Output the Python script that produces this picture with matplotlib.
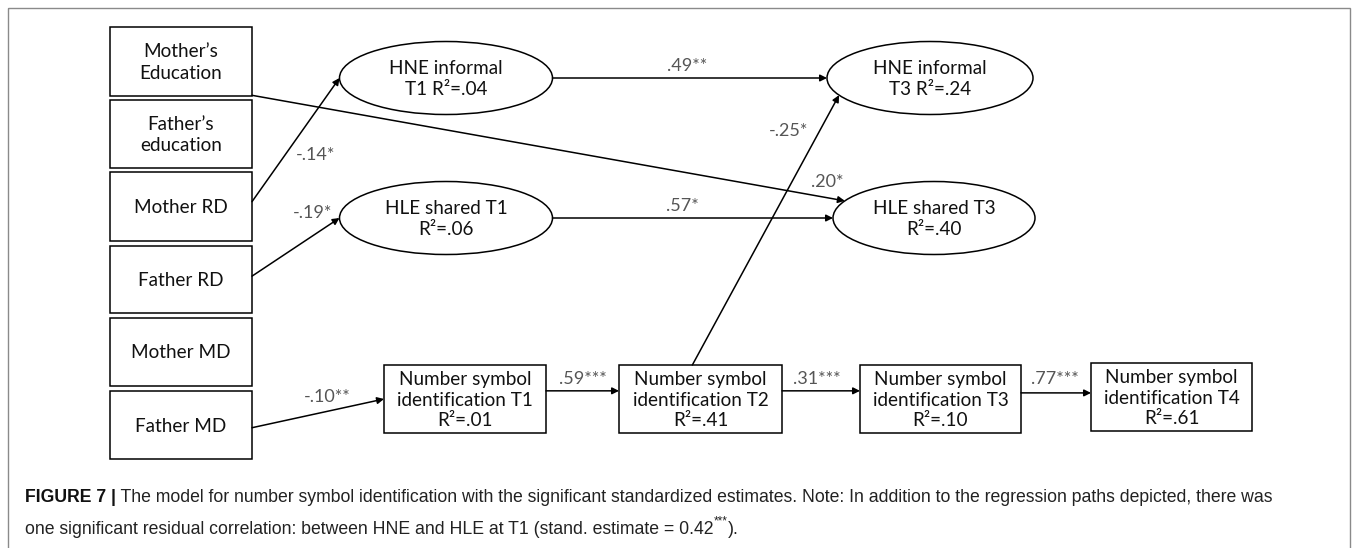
import numpy as np
import matplotlib
matplotlib.use("Agg")
import matplotlib.pyplot as plt
from matplotlib.patches import Rectangle, Ellipse

W, H = 1356, 548

# node texts
box_names = ["med", "fed", "mrd", "frd", "mmd", "fmd", "nsi1", "nsi2", "nsi3", "nsi4"]
box_labels = ["Mother\u2019s\nEducation", "Father\u2019s\neducation", "Mother RD", "Father RD",
              "Mother MD", "Father MD",
              "Number symbol\nidentification T1\nR\u00b2=.01",
              "Number symbol\nidentification T2\nR\u00b2=.41",
              "Number symbol\nidentification T3\nR\u00b2=.10",
              "Number symbol\nidentification T4\nR\u00b2=.61"]
ell_names = ["hne1", "hle1", "hne3", "hle3"]
ell_labels = ["HNE informal\nT1 R\u00b2=.04", "HLE shared T1\nR\u00b2=.06",
              "HNE informal\nT3 R\u00b2=.24", "HLE shared T3\nR\u00b2=.40"]

# paths: source, target, estimate
path_src = ["mrd", "frd", "med", "hne1", "hle1", "nsi2", "fmd", "nsi1", "nsi2", "nsi3"]
path_dst = ["hne1", "hle1", "hle3", "hne3", "hle3", "hne3", "nsi1", "nsi2", "nsi3", "nsi4"]
path_est = ["-.14*", "-.19*", ".20*", ".49**", ".57*", "-.25*", "-.10**", ".59***", ".31***", ".77***"]

caption_bold = "FIGURE 7 |"
caption_1 = " The model for number symbol identification with the significant standardized estimates. Note: In addition to the regression paths depicted, there was"
caption_2 = "one significant residual correlation: between HNE and HLE at T1 (stand. estimate = 0.42"
caption_2_sup = "***"
caption_2_end = ")."

# layout (pixels)
box_pos = {
    "med": (110, 27, 252, 96), "fed": (110, 100, 252, 168), "mrd": (110, 172, 252, 241),
    "frd": (110, 246, 252, 313), "mmd": (110, 318, 252, 386), "fmd": (110, 391, 252, 459),
    "nsi1": (384, 365, 546, 433), "nsi2": (619, 365, 782, 433),
    "nsi3": (860, 365, 1021, 433), "nsi4": (1091, 363, 1252, 431),
}
ell_pos = {
    "hne1": (446, 78, 213, 73), "hle1": (446, 218, 213, 73),
    "hne3": (930, 78, 206, 73), "hle3": (934, 218, 202, 73),
}
src_anchor = [("r", .43), ("r", .45), ("r", .99), ("e", 0), ("e", 0), ("t", .45),
              ("r", .54), ("r", .38), ("r", .38), ("r", .41)]
dst_anchor = [("e", 180), ("e", 180), ("e", 152), ("e", 180), ("e", 180), ("e", 208),
              ("l", .5), ("l", .38), ("l", .38), ("l", .44)]
label_xy = [(316, 155), (313, 213), (827, 182), (687, 66), (682, 206), (789, 131),
            (327, 397), (583, 379), (817, 379), (1055, 379)]


def anchor(name, spec):
    side, v = spec
    if side == "e":
        cx, cy, w, h = ell_pos[name]
        t = np.deg2rad(v)
        return cx + w / 2 * np.cos(t), cy - h / 2 * np.sin(t)
    x0, y0, x1, y1 = box_pos[name]
    if side == "r":
        return x1, y0 + v * (y1 - y0)
    if side == "l":
        return x0, y0 + v * (y1 - y0)
    return x0 + v * (x1 - x0), y0


fig = plt.figure(figsize=(W / 100, H / 100), dpi=100)
ax = fig.add_axes([0, 0, 1, 1])
ax.set_xlim(0, W)
ax.set_ylim(H, 0)
ax.axis("off")

# outer frame
ax.add_patch(Rectangle((8, 8), 1342, 560, fill=False, ec="#8a8a8a", lw=1.0))

node_font = dict(family="Lato", size=13.6, color="#111111")
for n, lab in zip(box_names, box_labels):
    x0, y0, x1, y1 = box_pos[n]
    ax.add_patch(Rectangle((x0, y0), x1 - x0, y1 - y0, fill=False, ec="black", lw=1.1))
    ax.text((x0 + x1) / 2, (y0 + y1) / 2 + 1, lab, ha="center", va="center",
            linespacing=1.22 if n.startswith("nsi") else 1.3, **node_font)

for n, lab in zip(ell_names, ell_labels):
    cx, cy, w, h = ell_pos[n]
    ax.add_patch(Ellipse((cx, cy), w, h, fill=False, ec="black", lw=1.1))
    ax.text(cx, cy + 1, lab, ha="center", va="center", linespacing=1.3, **node_font)

for s, d, est, sa, da, lxy in zip(path_src, path_dst, path_est, src_anchor, dst_anchor, label_xy):
    p0 = anchor(s, sa)
    p1 = anchor(d, da)
    ax.annotate("", xy=p1, xytext=p0,
                arrowprops=dict(arrowstyle="-|>", mutation_scale=10, lw=1.1, color="black",
                                shrinkA=0, shrinkB=0))
    ax.text(lxy[0], lxy[1], est, ha="center", va="center", family="Lato", size=13,
            color="#555555")

# caption
cap = dict(family="Liberation Sans", size=12.7, color="#222222")
t = ax.text(25, 498, caption_bold, ha="left", va="center", weight="bold",
            family="Liberation Sans", size=12.7, color="#111111")
ax.annotate(caption_1, xy=(1, 0.5), xycoords=t, ha="left", va="center", **cap)
t2 = ax.text(25, 534, caption_2, ha="left", va="baseline", **cap)
t3 = ax.annotate(caption_2_sup, xy=(1, 0.62), xycoords=t2, ha="left", va="bottom",
                 family="Liberation Sans", size=8.5, color="#222222")
ax.annotate(caption_2_end, xy=(1, 0), xycoords=(t3, t2), ha="left", va="bottom", **cap)

fig.savefig("out.png", dpi=100)
